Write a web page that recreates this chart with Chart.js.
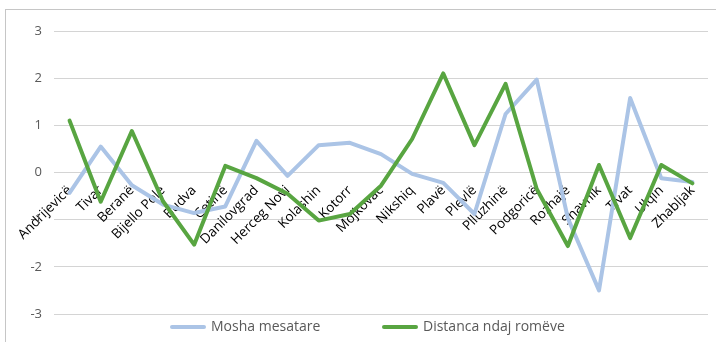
<!DOCTYPE html>
<html>
<head>
<meta charset="utf-8">
<script src="https://cdn.jsdelivr.net/npm/chart.js@4.4.1/dist/chart.umd.min.js"></script>
<style>
  html, body { margin:0; padding:0; background:#fff; overflow:hidden; }
  #marco { position:absolute; left:5px; top:9px; width:760px; height:400px; border:1px solid #c6c6c6; pointer-events:none; }
  #Grafico1 { position:absolute; left:0; top:0; }
</style>
</head>
<body>
<canvas id="Grafico1" width="716" height="342"></canvas>
<div id="marco"></div>
<script>
// categorias (municipios)
let municipios = ['Andrijevicë','Tivar','Beranë','Bijello Pole','Budva','Cetinë','Danilovgrad','Herceg Novi','Kolashin','Kotorr','Mojkovac','Nikshiq','Plavë','Plevlë','Plluzhinë','Podgoricë','Rozhajë','Shavnik','Tivat','Ulqin','Zhabljak'];

// series
let moshaMesatare = [-0.43, 0.55, -0.27, -0.68, -0.86, -0.72, 0.67, -0.07, 0.58, 0.63, 0.39, -0.03, -0.22, -0.88, 1.24, 1.97, -0.97, -2.5, 1.58, -0.12, -0.2];
let distancaRomeve = [1.1, -0.62, 0.88, -0.61, -1.53, 0.14, -0.12, -0.45, -1.02, -0.88, -0.28, 0.71, 2.1, 0.58, 1.88, -0.35, -1.56, 0.16, -1.39, 0.16, -0.23];

let nombresSeries = ['Mosha mesatare', 'Distanca ndaj romëve'];
let coloresSeries = ['#abc4e6', '#58a541'];

// ticks eje y
let ticksY = [-3, -2, -1, 0, 1, 2, 3];

// leyenda dibujada a mano para respetar el espaciado
const leyenda = {
    id: 'leyenda',
    afterDraw(chart){
        const ctx = chart.ctx;
        const y = 327;
        const inicios = [170, 382];
        ctx.save();
        ctx.font = '14px "Open Sans"';
        ctx.textBaseline = 'middle';
        ctx.textAlign = 'left';
        nombresSeries.forEach((nombre, i) => {
            let x = inicios[i];
            ctx.strokeStyle = coloresSeries[i];
            ctx.lineWidth = 4;
            ctx.lineCap = 'round';
            ctx.beginPath();
            ctx.moveTo(x + 2, y);
            ctx.lineTo(x + 34, y);
            ctx.stroke();
            ctx.fillStyle = '#595959';
            ctx.fillText(nombre, x + 41, y);
        });
        ctx.restore();
    }
};

let canvasG1 = document.getElementById('Grafico1').getContext('2d');
let datos = {
    labels: municipios,
    datasets: [{
        label: nombresSeries[0],
        data: moshaMesatare,
        borderColor: coloresSeries[0],
        backgroundColor: coloresSeries[0],
        borderWidth: 4,
        pointRadius: 0,
        borderJoinStyle: 'round',
        borderCapStyle: 'round',
        tension: 0,
        order: 1
    },{
        label: nombresSeries[1],
        data: distancaRomeve,
        borderColor: coloresSeries[1],
        backgroundColor: coloresSeries[1],
        borderWidth: 4,
        pointRadius: 0,
        borderJoinStyle: 'round',
        borderCapStyle: 'round',
        tension: 0,
        order: 0
    }]
};
let opciones = {
    responsive: false,
    animation: false,
    devicePixelRatio: 1,
    layout: { padding: { left: 30, right: 8, top: 31, bottom: 28 } },
    plugins: {
        legend: { display: false },
        tooltip: { enabled: false }
    },
    scales: {
        x: {
            position: { y: 0 },
            offset: true,
            grid: { display: false, drawTicks: false },
            border: { display: false },
            afterFit: function(escala){
                // las etiquetas giradas no deben empujar el area del grafico
                escala.paddingLeft = 0;
                escala.paddingRight = 0;
            },
            ticks: {
                color: '#000',
                font: { family: 'Open Sans', size: 13.5 },
                minRotation: 45,
                maxRotation: 45,
                autoSkip: false,
                padding: 10
            }
        },
        y: {
            min: ticksY[0],
            max: ticksY[ticksY.length - 1],
            afterBuildTicks: function(escala){
                escala.ticks = ticksY.map(v => ({ value: v }));
            },
            afterFit: function(escala){
                escala.width = 24;
            },
            grid: { color: '#d4d4d4', lineWidth: 1, drawTicks: false },
            border: { display: false },
            ticks: {
                color: '#595959',
                font: { family: 'Open Sans', size: 13 },
                padding: 12
            }
        }
    }
};
let G1 = new Chart(canvasG1, {
    type: 'line',
    data: datos,
    options: opciones,
    plugins: [leyenda]
});
</script>
</body>
</html>
